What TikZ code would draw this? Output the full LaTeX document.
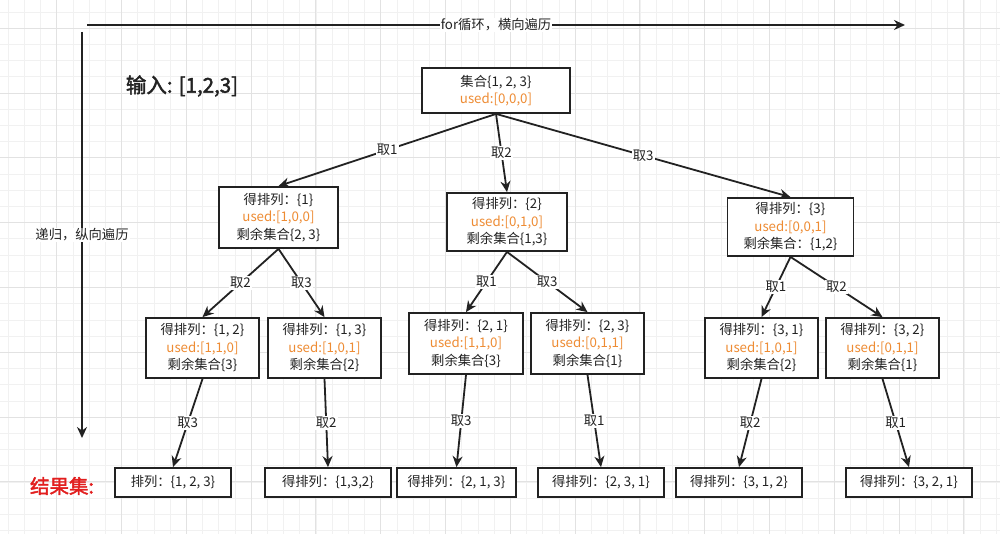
\documentclass[tikz,border=0pt]{standalone}
\usepackage{fontspec}
\setmainfont{Noto Sans CJK SC}
\newfontfamily\cjk{Noto Sans CJK SC}
\newfontfamily\cjkbold[FakeBold=2]{Noto Sans CJK SC}
\usetikzlibrary{arrows.meta}
\definecolor{linec}{RGB}{34,34,34}
\definecolor{usedc}{RGB}{238,140,52}
\definecolor{redc}{RGB}{226,30,30}
\definecolor{gridminor}{RGB}{241,241,241}
\definecolor{gridmajor}{RGB}{226,226,226}
\tikzset{
  box/.style={draw=linec, line width=1.8pt, fill=white, inner sep=0pt, align=center,
    font=\cjk\fontsize{13.3}{17.5}\selectfont, text=linec},
  midbox/.style={box, minimum width=113pt, minimum height=60pt},
  resbox/.style={box, minimum height=29pt},
  edge/.style={draw=linec, line width=1.8pt, -{Stealth[length=11pt,width=10pt]}},
  elabel/.style={midway, fill=white, inner sep=1pt, font=\cjk\fontsize{13.3}{15}\selectfont, text=linec},
}
\newcommand{\usedtxt}[1]{\textcolor{usedc}{#1}}
\begin{document}
\begin{tikzpicture}[x=1pt,y=-1pt]
\useasboundingbox (0,0) rectangle (1000,534);
\fill[white] (0,0) rectangle (1000,534);
% grid
\foreach \i in {0,...,62} {
  \draw[gridminor, line width=0.8pt] (8.1+16.2*\i,0) -- (8.1+16.2*\i,534);
}
\foreach \i in {0,...,33} {
  \draw[gridminor, line width=0.8pt] (0,12.1+16.2*\i) -- (1000,12.1+16.2*\i);
}
\foreach \i in {0,...,15} {
  \draw[gridmajor, line width=0.9pt] (56.7+64.8*\i,0) -- (56.7+64.8*\i,534);
}
\foreach \i in {0,...,8} {
  \draw[gridmajor, line width=0.9pt] (0,28.3+64.8*\i) -- (1000,28.3+64.8*\i);
}

% axes
\coordinate (h0) at (87,25);
\coordinate (h1) at (905,25);
\coordinate (v0) at (82,32);
\coordinate (v1) at (82,438);
\draw[edge] (h0) -- (h1) node[elabel] {for循环，横向遍历};
\draw[edge] (v0) -- (v1) node[elabel] {递归，纵向遍历};

% titles
\node (inp) at (182,86) {\cjkbold\fontsize{20.5}{22}\selectfont\color{linec}输入: [1,2,3]};
\node (res) at (62,486) {\cjkbold\fontsize{19.5}{22}\selectfont\color{redc}结果集:};

% tree nodes
\node[box, minimum width=148pt, minimum height=45pt] (root) at (496,90.5) {集合\{1, 2, 3\}\\\usedtxt{used:[0,0,0]}};

\node[box, minimum width=119pt, minimum height=61pt] (A) at (278.5,217.5) {得排列：\{1\}\\\usedtxt{used:[1,0,0]}\\剩余集合\{2, 3\}};
\node[box, minimum width=120pt, minimum height=58pt] (B) at (507,222) {得排列：\{2\}\\\usedtxt{used:[0,1,0]}\\剩余集合\{1,3\}};
\node[box, minimum width=126pt, minimum height=58pt] (C) at (790.5,227) {得排列：\{3\}\\\usedtxt{used:[0,0,1]}\\剩余集合：\{1,2\}};

\node[midbox] (A1) at (202.5,348) {得排列：\{1, 2\}\\\usedtxt{used:[1,1,0]}\\剩余集合\{3\}};
\node[midbox] (A2) at (324.5,348) {得排列：\{1, 3\}\\\usedtxt{used:[1,0,1]}\\剩余集合\{2\}};
\node[midbox, minimum width=114pt, minimum height=61pt] (B1) at (466,343.5) {得排列：\{2, 1\}\\\usedtxt{used:[1,1,0]}\\剩余集合\{3\}};
\node[midbox, minimum height=61pt] (B2) at (587.5,343.5) {得排列：\{2, 3\}\\\usedtxt{used:[0,1,1]}\\剩余集合\{1\}};
\node[midbox] (C1) at (761.5,348) {得排列：\{3, 1\}\\\usedtxt{used:[1,0,1]}\\剩余集合\{2\}};
\node[midbox] (C2) at (882.5,348) {得排列：\{3, 2\}\\\usedtxt{used:[0,1,1]}\\剩余集合\{1\}};

\node[resbox, minimum width=116pt] (R1) at (173,482.5) {排列：\{1, 2, 3\}};
\node[resbox, minimum width=126pt] (R2) at (328,482.5) {得排列：\{1,3,2\}};
\node[resbox, minimum width=119pt] (R3) at (456.5,482.5) {得排列：\{2, 1, 3\}};
\node[resbox, minimum width=126pt] (R4) at (601,482.5) {得排列：\{2, 3, 1\}};
\node[resbox, minimum width=126pt] (R5) at (739,482.5) {得排列：\{3, 1, 2\}};
\node[resbox, minimum width=126pt] (R6) at (909,482.5) {得排列：\{3, 2, 1\}};

% edges
\draw[edge] (root.south) -- (A.north) node[elabel] {取1};
\draw[edge] (root.south) -- (B.north) node[elabel] {取2};
\draw[edge] (root.south) -- (C.north) node[elabel] {取3};

\draw[edge] (A.south) -- (A1.north) node[elabel] {取2};
\draw[edge] (A.south) -- (A2.north) node[elabel] {取3};
\draw[edge] (B.south) -- (B1.north) node[elabel] {取1};
\draw[edge] (B.south) -- (B2.north) node[elabel] {取3};
\draw[edge] (C.south) -- (C1.north) node[elabel] {取1};
\draw[edge] (C.south) -- (C2.north) node[elabel] {取2};

\draw[edge] (A1.south) -- (R1.north) node[elabel] {取3};
\draw[edge] (A2.south) -- (R2.north) node[elabel] {取2};
\draw[edge] (B1.south) -- (R3.north) node[elabel] {取3};
\draw[edge] (B2.south) -- (R4.north) node[elabel] {取1};
\draw[edge] (C1.south) -- (R5.north) node[elabel] {取2};
\draw[edge] (C2.south) -- (R6.north) node[elabel] {取1};
\end{tikzpicture}
\end{document}
